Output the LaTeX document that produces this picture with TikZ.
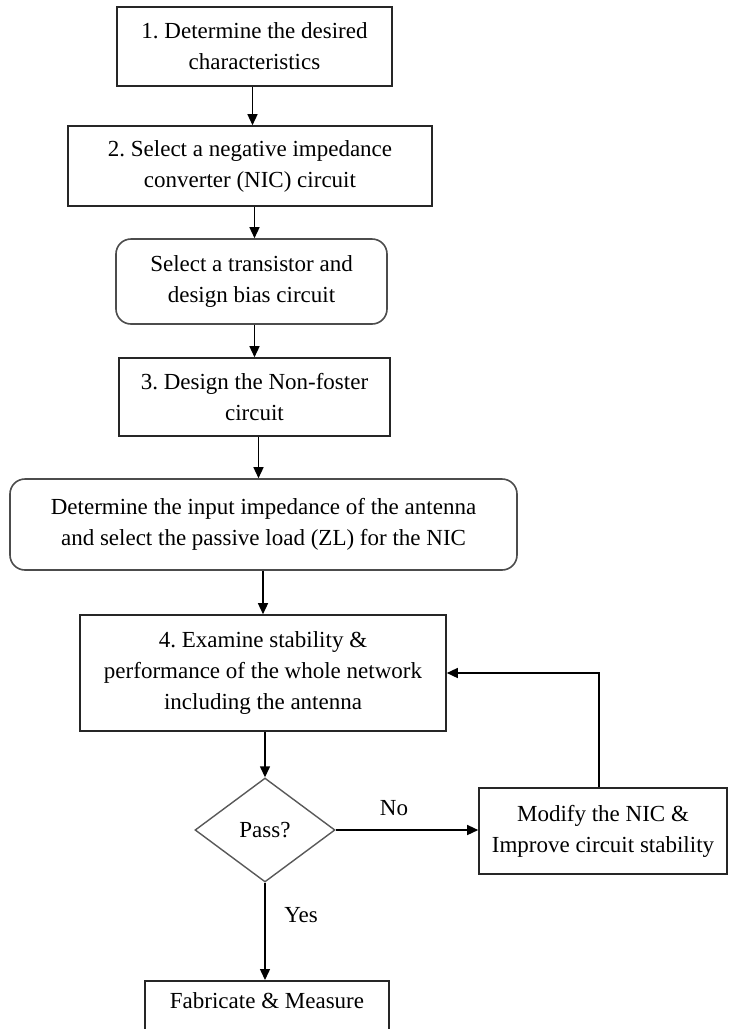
\documentclass[tikz,border=0pt]{standalone}
\usepackage{fontspec}
\setmainfont{Liberation Serif}
\usetikzlibrary{shapes.geometric,arrows.meta}
\begin{document}
\frenchspacing
\begin{tikzpicture}[x=1pt,y=-1pt,
  font=\fontsize{23}{31}\selectfont,
  box/.style={draw=black!85,line width=1.6pt,rectangle,align=center,inner sep=0pt},
  rbox/.style={box,draw=black!70,rounded corners=15pt},
  dia/.style={draw=black!65,line width=1.4pt,diamond,inner sep=0pt,aspect=1.35,minimum width=140pt,minimum height=104pt},
  arr/.style={line width=1.4pt,-{Triangle[length=11pt,width=10pt]}},
  lab/.style={inner sep=0pt}]
\useasboundingbox (0,0) rectangle (729,1029);
\clip (0,0) rectangle (729,1029);
\fill[white] (0,0) rectangle (729,1029);
\node[box,minimum width=275pt,minimum height=79pt] (b1) at (254.5,46.5) {1. Determine the desired\\characteristics};
\node[box,minimum width=364pt,minimum height=80pt] (b2) at (250,166) {2. Select a negative impedance\\converter (NIC) circuit};
\node[rbox,minimum width=271pt,minimum height=85pt] (b3) at (251.5,281.5) {Select a transistor and\\design bias circuit};
\node[box,minimum width=271pt,minimum height=78pt] (b4) at (254.5,397) {3. Design the Non-foster\\circuit};
\node[rbox,minimum width=507pt,minimum height=91pt] (b5) at (263.5,524.5) {Determine the input impedance of the antenna\\and select the passive load (ZL) for the NIC};
\node[box,minimum width=366pt,minimum height=116pt] (b6) at (263,673) {4. Examine stability \&\\performance of the whole network\\including the antenna};
\node[dia] (d) at (265,830) {Pass?};
\node[box,minimum width=248pt,minimum height=86pt] (b7) at (603,831) {Modify the NIC \&\\Improve circuit stability};
\node[box,minimum width=244pt,anchor=north,inner ysep=10pt,text height=18pt,text depth=62pt] (b8) at (267,980) {Fabricate \& Measure};
\node[lab] (no) at (394,808) {No};
\node[lab] (yes) at (301,915) {Yes};
\draw[arr] ([xshift=-2pt]b1.south) -- ([xshift=-2pt]b1.south |- b2.north);
\draw[arr] ([xshift=3pt]b3.north |- b2.south) -- ([xshift=3pt]b3.north);
\draw[arr] (b4.north |- b3.south) -- (b4.north);
\draw[arr] ([xshift=4pt]b4.south) -- ([xshift=4pt]b4.south |- b5.north);
\draw[arr] (b6.north |- b5.south) -- (b6.north);
\draw[arr] (d.north |- b6.south) -- (d.north);
\draw[arr] (d.south) -- (d.south |- b8.north);
\draw[arr] (d.east) -- (d.east -| b7.west);
\draw[arr] ([xshift=-4pt]b7.north) |- (b6.east);
\end{tikzpicture}
\end{document}
